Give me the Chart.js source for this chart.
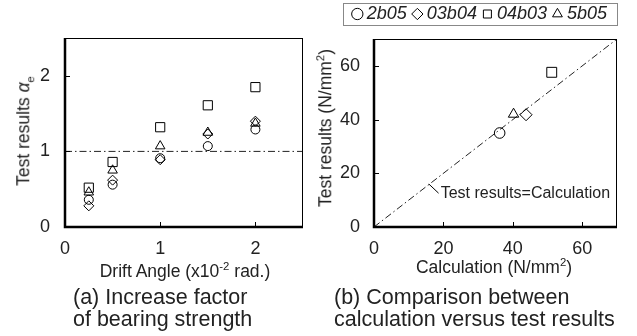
<!DOCTYPE html>
<html>
<head>
<meta charset="utf-8">
<script src="https://cdn.jsdelivr.net/npm/chart.js@4.4.0/dist/chart.umd.min.js"></script>
<style>
body { margin: 0; background: #fff; }
#wrap { position: relative; width: 637px; height: 336px; overflow: hidden; font-family: "Liberation Sans", Arial, sans-serif; color: #222; }
canvas { position: absolute; top: 0; }
.txt { position: absolute; white-space: nowrap; line-height: 1; }
.axis { font-size: 17.5px; transform: translate(-50%, -50%); }
.rot { transform: translate(-50%, -50%) rotate(-90deg); }
.cap { font-size: 21.5px; line-height: 22px; }
sup, sub { font-size: 0.65em; line-height: 0; }
</style>
</head>
<body>
<div id="wrap">
  <canvas id="chartA" width="320" height="336" style="left:0"></canvas>
  <canvas id="chartB" width="317" height="336" style="left:320px"></canvas>

  <div class="txt axis rot" style="left:24px; top:131px">Test results <i>α</i><sub>e</sub></div>
  <div class="txt axis" style="left:185px; top:272px">Drift Angle (x10<sup>-2</sup> rad.)</div>
  <div class="txt cap" style="left:73px; top:286px">(a) Increase factor<br>of bearing strength</div>

  <div class="txt axis rot" style="left:326px; top:128px">Test results (N/mm<sup>2</sup>)</div>
  <div class="txt axis" style="left:494px; top:268px">Calculation (N/mm<sup>2</sup>)</div>
  <div class="txt cap" style="left:334px; top:286px">(b) Comparison between<br>calculation versus test results</div>
</div>

<script>
// (a) increase factor vs drift angle
const driftAngles = [0.25, 0.5, 1, 1.5, 2]
const factor2b05 = [0.36, 0.56, 0.91, 1.07, 1.29]
const factor03b04 = [0.28, 0.62, 0.89, 1.23, 1.40]
const factor04b03 = [0.52, 0.86, 1.32, 1.61, 1.85]
const factor5b05 = [0.46, 0.75, 1.07, 1.25, 1.37]
const angleTicks = [0, 1, 2]
const factorTicks = [0, 1, 2]

// (b) test results vs calculation, N/mm2
const specimens = ['2b05', '03b04', '04b03', '5b05']
const calcStrength = [36.2, 43.8, 51.2, 40.2]
const testStrength = [35.0, 41.8, 57.6, 42.0]
const strengthTicks = [0, 20, 40, 60]

const pointStyles = ['circle', 'rectRot', 'rect', 'triangle']
const sizesA = [4.5, 5, 6.5, 5.5]
const sizesB = [5.3, 6, 7, 6]

const font = '"Liberation Sans", Arial, sans-serif'
const dashDot = [7, 3, 1.5, 3]

function setTicks(list) {
    return (scale) => { scale.ticks = list.map(v => ({ value: v })) }
}

const boxPlugin = {
    id: 'box',
    afterDatasetsDraw(chart) {
        const { ctx, chartArea: a, scales } = chart
        ctx.save()
        ctx.strokeStyle = '#000'
        ctx.lineWidth = 1
        ctx.strokeRect(a.left + 0.5, a.top + 0.5, a.width - 1, a.height - 1)
        ctx.lineWidth = 2.5
        ctx.beginPath()
        ctx.moveTo(a.left, a.top)
        ctx.lineTo(a.left, a.bottom)
        ctx.lineTo(a.right, a.bottom)
        ctx.stroke()
        ctx.lineWidth = 1
        ctx.beginPath()
        scales.x.ticks.forEach(t => {
            if (t.value <= scales.x.min) return
            const px = Math.round(scales.x.getPixelForValue(t.value)) + 0.5
            ctx.moveTo(px, a.bottom)
            ctx.lineTo(px, a.bottom - 5)
        })
        scales.y.ticks.forEach(t => {
            if (t.value <= scales.y.min) return
            const py = Math.round(scales.y.getPixelForValue(t.value)) + 0.5
            ctx.moveTo(a.left, py)
            ctx.lineTo(a.left + 5, py)
        })
        ctx.stroke()
        ctx.restore()
    }
}

// legend frame + "Test results=Calculation" note for chart (b)
const notePlugin = {
    id: 'note',
    afterDraw(chart) {
        const { ctx, scales: { x, y } } = chart
        ctx.save()
        ctx.strokeStyle = '#000'
        ctx.lineWidth = 1
        ctx.beginPath()
        ctx.moveTo(x.getPixelForValue(15.8), y.getPixelForValue(16))
        ctx.lineTo(x.getPixelForValue(18.6), y.getPixelForValue(12.6))
        ctx.stroke()
        ctx.fillStyle = '#222'
        ctx.font = '16px ' + font
        ctx.textBaseline = 'middle'
        ctx.fillText('Test results=Calculation', x.getPixelForValue(19.2), y.getPixelForValue(12.6))

        const hb = chart.legend.legendHitBoxes
        if (hb && hb.length) {
            const last = hb[hb.length - 1]
            const left = hb[0].left - 14
            const right = last.left + last.width + 10
            ctx.strokeStyle = '#888'
            ctx.strokeRect(Math.round(left) + 0.5, Math.round(hb[0].top - 2) + 0.5,
                Math.round(right - left), 22)
        }
        ctx.restore()
    }
}

function scatterSet(label, xs, ys, i, sizes) {
    return {
        label: label,
        data: xs.map((v, k) => ({ x: v, y: ys[k] })),
        pointStyle: pointStyles[i],
        pointRadius: sizes[i],
        pointHoverRadius: sizes[i],
        pointBorderWidth: 1,
        borderWidth: 1,
        borderColor: '#000',
        backgroundColor: 'rgba(0,0,0,0)',
        pointBackgroundColor: 'rgba(0,0,0,0)',
        showLine: false
    }
}

function refLine(points) {
    return {
        label: '',
        data: points,
        showLine: true,
        pointRadius: 0,
        borderColor: '#222',
        borderWidth: 1,
        borderDash: dashDot
    }
}

const tickFont = { family: font, size: 18 }

// ---- chart (a)
const factors = [factor2b05, factor03b04, factor04b03, factor5b05]
let chartA = new Chart(document.querySelector('#chartA'), {
    type: 'scatter',
    data: {
        datasets: [refLine([{ x: 0, y: 1 }, { x: 2.5, y: 1 }])].concat(
            factors.map((f, i) => scatterSet(specimens[i], driftAngles, f, i, sizesA)))
    },
    options: {
        responsive: false,
        animation: false,
        devicePixelRatio: 1,
        layout: { padding: { top: 38, right: 17, left: 0, bottom: 0 } },
        plugins: { legend: { display: false }, tooltip: { enabled: false } },
        scales: {
            x: {
                type: 'linear', min: 0, max: 2.5,
                afterBuildTicks: setTicks(angleTicks),
                afterFit: (s) => { s.height = 109 },
                grid: { display: false, drawTicks: false },
                border: { display: false },
                ticks: { font: tickFont, color: '#222', padding: 11, maxRotation: 0 }
            },
            y: {
                type: 'linear', min: 0, max: 2.5,
                afterBuildTicks: setTicks(factorTicks),
                afterFit: (s) => { s.width = 65 },
                grid: { display: false, drawTicks: false },
                border: { display: false },
                ticks: { font: tickFont, color: '#222', padding: 15 }
            }
        }
    },
    plugins: [boxPlugin]
})

// ---- chart (b)
let chartB = new Chart(document.querySelector('#chartB'), {
    type: 'scatter',
    data: {
        datasets: specimens.map((s, i) => scatterSet(s, [calcStrength[i]], [testStrength[i]], i, sizesB))
            .concat([refLine([{ x: 0, y: 0 }, { x: 70, y: 70 }])])
    },
    options: {
        responsive: false,
        animation: false,
        devicePixelRatio: 1,
        layout: { padding: { top: -5, right: 20, left: 0, bottom: 0 } },
        plugins: {
            tooltip: { enabled: false },
            title: { display: true, text: '', weight: 500, padding: 0, font: { size: 6, lineHeight: 1 } },
            legend: {
                display: true,
                position: 'top',
                align: 'end',
                labels: {
                    usePointStyle: true,
                    boxWidth: 1,
                    boxHeight: 8,
                    padding: 10,
                    color: '#222',
                    font: { family: font, size: 18, style: 'italic' },
                    filter: (item) => item.text !== ''
                }
            }
        },
        scales: {
            x: {
                type: 'linear', min: 0, max: 70,
                afterBuildTicks: setTicks(strengthTicks),
                afterFit: (s) => { s.height = 109 },
                grid: { display: false, drawTicks: false },
                border: { display: false },
                ticks: { font: tickFont, color: '#222', padding: 11, maxRotation: 0 }
            },
            y: {
                type: 'linear', min: 0, max: 70,
                afterBuildTicks: setTicks(strengthTicks),
                afterFit: (s) => { s.width = 54 },
                grid: { display: false, drawTicks: false },
                border: { display: false },
                ticks: { font: tickFont, color: '#222', padding: 14 }
            }
        }
    },
    plugins: [boxPlugin, notePlugin]
})
</script>
</body>
</html>
